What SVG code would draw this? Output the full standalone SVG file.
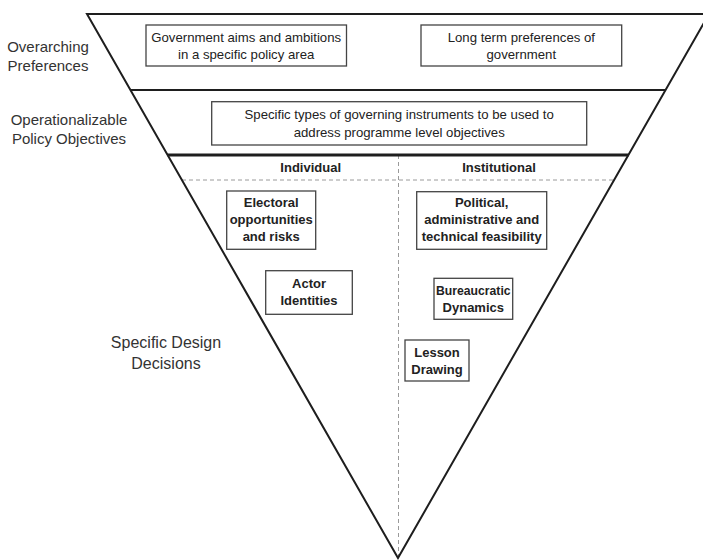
<svg xmlns="http://www.w3.org/2000/svg" width="703" height="560" viewBox="0 0 703 560">
<style>
.frame{fill:none;stroke:#1e1e1e;stroke-width:2;stroke-linejoin:miter}
.div{stroke:#1e1e1e;stroke-width:2}
.divthick{stroke:#1e1e1e;stroke-width:3}
.dash{stroke:#9a9a9a;stroke-width:1;stroke-dasharray:4 3;fill:none}
.box{fill:#fff;stroke:#444;stroke-width:1.3}
.lbl{font-family:"Liberation Sans",Arial,sans-serif;font-size:15px;fill:#333;text-anchor:middle}
.lbl16{font-family:"Liberation Sans",Arial,sans-serif;font-size:16px;fill:#333;text-anchor:middle}
.t{font-family:"Liberation Sans",Arial,sans-serif;font-size:13.2px;fill:#222;text-anchor:middle}
.b{font-family:"Liberation Sans",Arial,sans-serif;font-size:13px;font-weight:bold;fill:#222;text-anchor:middle}
.bs{font-size:12.2px}
</style>
<rect width="703" height="560" fill="#fff"/>
<g id="frame">
<line class="dash" x1="398.5" y1="155" x2="398.5" y2="557"/>
<line class="dash" x1="182" y1="180" x2="614" y2="180"/>
<polygon class="frame" points="87,14 709,14 398,558"/>
<line class="div" x1="130.5" y1="90" x2="665" y2="90"/>
<line class="divthick" x1="167.6" y1="155" x2="628.5" y2="155"/>
</g>
<g id="level-labels">
<text class="lbl" x="48" y="52">Overarching</text>
<text class="lbl" x="48" y="71">Preferences</text>
<text class="lbl" x="69" y="125">Operationalizable</text>
<text class="lbl" x="69" y="143.5">Policy Objectives</text>
<text class="lbl16" x="166" y="348">Specific Design</text>
<text class="lbl16" x="166" y="369">Decisions</text>
</g>
<g id="column-headers">
<text class="b" x="310.7" y="172">Individual</text>
<text class="b" x="499" y="172">Institutional</text>
</g>
<g id="node-aims">
<rect class="box" x="146" y="25" width="200.5" height="41"/>
<text class="t" x="246.2" y="41.7">Government aims and ambitions</text>
<text class="t" x="246.2" y="59.3">in a specific policy area</text>
</g>
<g id="node-longterm">
<rect class="box" x="421" y="25" width="200.7" height="41"/>
<text class="t" x="521.3" y="41.7">Long term preferences of</text>
<text class="t" x="521.3" y="59.3">government</text>
</g>
<g id="node-instruments">
<rect class="box" x="211.7" y="101.7" width="375" height="43.3"/>
<text class="t" x="399.2" y="119">Specific types of governing instruments to be used to</text>
<text class="t" x="399.2" y="136.7">address programme level objectives</text>
</g>
<g id="node-electoral">
<rect class="box" x="226.7" y="191" width="89" height="58.3"/>
<text class="b" x="271.2" y="206.7">Electoral</text>
<text class="b" x="271.2" y="224">opportunities</text>
<text class="b" x="271.2" y="241.3">and risks</text>
</g>
<g id="node-actor">
<rect class="box" x="265.7" y="270.7" width="86.6" height="43.6"/>
<text class="b" x="309" y="287.7">Actor</text>
<text class="b" x="309" y="305">Identities</text>
</g>
<g id="node-feasibility">
<rect class="box" x="416.7" y="191.7" width="130" height="57.6"/>
<text class="b" x="481.7" y="206.7">Political,</text>
<text class="b" x="481.7" y="224">administrative and</text>
<text class="b" x="481.7" y="241.3">technical feasibility</text>
</g>
<g id="node-bureaucratic">
<rect class="box" x="434" y="278.3" width="78.7" height="41"/>
<text class="b bs" x="473.3" y="295">Bureaucratic</text>
<text class="b" x="473.3" y="311.7">Dynamics</text>
</g>
<g id="node-lesson">
<rect class="box" x="405" y="340" width="64" height="41"/>
<text class="b" x="437" y="356.7">Lesson</text>
<text class="b" x="437" y="374">Drawing</text>
</g>
<g id="connectors"></g>
</svg>
